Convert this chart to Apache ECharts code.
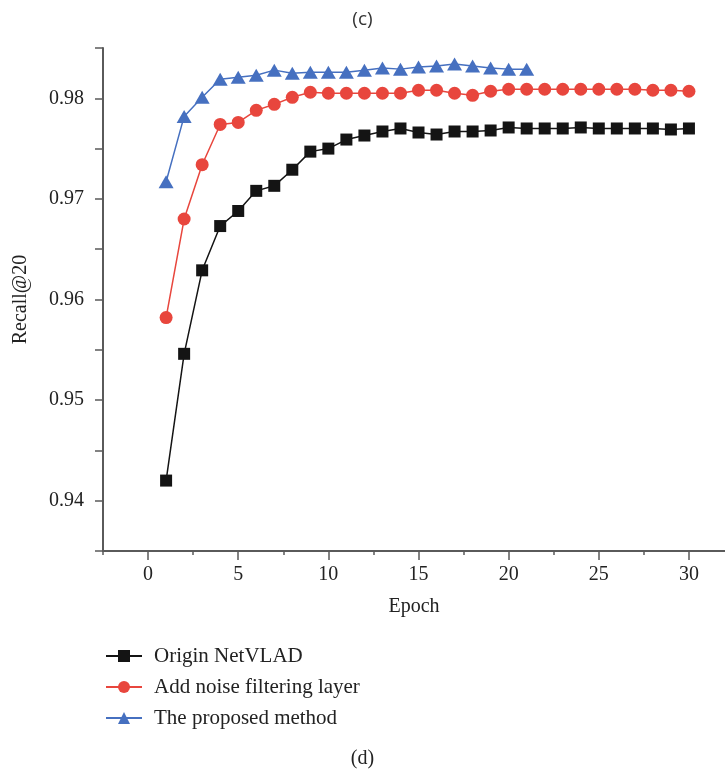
<!DOCTYPE html>
<html>
<head>
<meta charset="utf-8">
<script src="https://cdn.jsdelivr.net/npm/echarts@6/dist/echarts.min.js"></script>
<style>
  html, body { margin: 0; padding: 0; background: #fff; }
  #chart { width: 725px; height: 771px; }
</style>
</head>
<body>
<div id="chart"></div>
<script>
// values
const epochs = [1, 2, 3, 4, 5, 6, 7, 8, 9, 10, 11, 12, 13, 14, 15, 16, 17, 18, 19, 20, 21, 22, 23, 24, 25, 26, 27, 28, 29, 30]
const originNetVLAD = [0.9420, 0.9546, 0.9629, 0.9673, 0.9688, 0.9708, 0.9713, 0.9729, 0.9747, 0.9750,
  0.9759, 0.9763, 0.9767, 0.9770, 0.9766, 0.9764, 0.9767, 0.9767, 0.9768, 0.9771,
  0.9770, 0.9770, 0.9770, 0.9771, 0.9770, 0.9770, 0.9770, 0.9770, 0.9769, 0.9770]
const noiseFiltering = [0.9582, 0.9680, 0.9734, 0.9774, 0.9776, 0.9788, 0.9794, 0.9801, 0.9806, 0.9805,
  0.9805, 0.9805, 0.9805, 0.9805, 0.9808, 0.9808, 0.9805, 0.9803, 0.9807, 0.9809,
  0.9809, 0.9809, 0.9809, 0.9809, 0.9809, 0.9809, 0.9809, 0.9808, 0.9808, 0.9807]
const proposed = [0.9717, 0.9782, 0.9801, 0.9819, 0.9821, 0.9823, 0.9828, 0.9825, 0.9826, 0.9826,
  0.9826, 0.9828, 0.9830, 0.9829, 0.9831, 0.9832, 0.9834, 0.9832, 0.9830, 0.9829, 0.9829]
const xTicks = [0, 5, 10, 15, 20, 25, 30]
const xMinorTicks = [-2.5, 2.5, 7.5, 12.5, 17.5, 22.5, 27.5]
const yTicks = [0.94, 0.95, 0.96, 0.97, 0.98]

const font = 'Liberation Serif'
const axisColor = '#5a5a5a'

const pairs = (vals) => vals.map((v, i) => [epochs[i], v])

const chart = echarts.init(document.getElementById('chart'))

chart.setOption({
  animation: false,
  backgroundColor: '#fff',
  title: [
    { text: '(c)', left: 'center', top: 5, textStyle: { fontFamily: 'Open Sans', fontWeight: 'normal', fontSize: 19, color: '#333' } },
    { text: '(d)', left: 'center', top: 744, textStyle: { fontFamily: font, fontWeight: 'normal', fontSize: 20, color: '#222' } }
  ],
  grid: { left: 103, right: 0, top: 48, bottom: 220, containLabel: false },
  legend: {
    orient: 'vertical',
    left: 105,
    top: 645,
    padding: 0,
    itemWidth: 36,
    itemHeight: 15,
    itemGap: 9,
    textStyle: { fontFamily: font, fontSize: 21, color: '#222', lineHeight: 22, padding: [0, 0, 0, 7] },
    data: ['Origin NetVLAD', 'Add noise filtering layer', 'The proposed method']
  },
  xAxis: [
    {
      type: 'value',
      min: -2.5,
      max: 32,
      name: 'Epoch',
      nameLocation: 'middle',
      nameGap: 46,
      nameTextStyle: { fontFamily: font, fontSize: 20, color: '#222' },
      axisLine: { show: true, onZero: false, lineStyle: { color: axisColor, width: 2 } },
      axisTick: { show: true, customValues: xMinorTicks, length: 4, lineStyle: { color: axisColor, width: 1.5 } },
      axisLabel: { customValues: xTicks, margin: 14, fontFamily: font, fontSize: 20, color: '#222' },
      splitLine: { show: false }
    },
    {
      type: 'value',
      min: -2.5,
      max: 32,
      position: 'bottom',
      axisLine: { show: false },
      axisTick: { show: true, customValues: xTicks, length: 9, lineStyle: { color: axisColor, width: 1.5 } },
      axisLabel: { show: false },
      splitLine: { show: false }
    }
  ],
  yAxis: {
    type: 'value',
    min: 0.935,
    max: 0.985,
    interval: 0.005,
    name: 'Recall@20',
    nameLocation: 'middle',
    nameGap: 72,
    nameTextStyle: { fontFamily: font, fontSize: 20, color: '#222' },
    axisLine: { show: true, onZero: false, lineStyle: { color: axisColor, width: 2 } },
    axisTick: { show: true, length: 8, lineStyle: { color: axisColor, width: 1.5 } },
    axisLabel: {
      customValues: yTicks,
      margin: 19,
      fontFamily: font,
      fontSize: 20,
      color: '#222',
      formatter: (v) => v.toFixed(2)
    },
    splitLine: { show: false }
  },
  series: [
    {
      name: 'Origin NetVLAD',
      type: 'line',
      data: pairs(originNetVLAD),
      symbol: 'rect',
      symbolSize: 12,
      color: '#141414',
      lineStyle: { width: 1.5, color: '#141414' },
      z: 3
    },
    {
      name: 'Add noise filtering layer',
      type: 'line',
      data: pairs(noiseFiltering),
      symbol: 'circle',
      symbolSize: 13,
      color: '#e8463d',
      lineStyle: { width: 1.5, color: '#e8463d' },
      z: 4
    },
    {
      name: 'The proposed method',
      type: 'line',
      data: pairs(proposed),
      symbol: 'triangle',
      symbolSize: [15, 13],
      color: '#4670c0',
      lineStyle: { width: 1.5, color: '#4670c0' },
      z: 5
    }
  ]
})
</script>
</body>
</html>
